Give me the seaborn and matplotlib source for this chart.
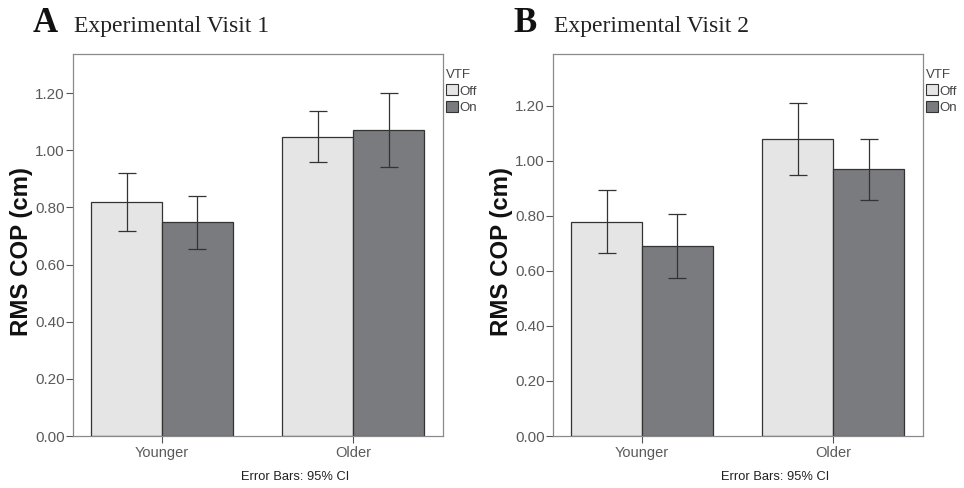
import numpy as np
import pandas as pd
import matplotlib
matplotlib.use("Agg")
import matplotlib.pyplot as plt
import seaborn as sns
from matplotlib.ticker import FormatStrFormatter
from matplotlib.patches import Patch

# ---- data ----
groups = ["Younger", "Older"]
vtf_levels = ["Off", "On"]

v1_off_mean = [0.818, 1.048]
v1_on_mean = [0.748, 1.070]
v1_off_lo = [0.719, 0.960]
v1_off_hi = [0.920, 1.138]
v1_on_lo = [0.656, 0.941]
v1_on_hi = [0.841, 1.202]

v2_off_mean = [0.779, 1.081]
v2_on_mean = [0.692, 0.971]
v2_off_lo = [0.665, 0.950]
v2_off_hi = [0.893, 1.212]
v2_on_lo = [0.575, 0.859]
v2_on_hi = [0.808, 1.081]

yticks = [0.0, 0.2, 0.4, 0.6, 0.8, 1.0, 1.2]

sns.set_style("white")
plt.rcParams["font.family"] = ["Liberation Sans", "DejaVu Sans"]

colors = {"Off": "#e5e5e6", "On": "#7a7b7f"}
tick_col = "#5a5a5a"
spine_col = "#8a8a8a"

fig = plt.figure(figsize=(9.64, 4.88), dpi=100)
axA = fig.add_axes([73 / 964, 52 / 488, 370 / 964, 382 / 488])
axB = fig.add_axes([553 / 964, 52 / 488, 370 / 964, 382 / 488])


def panel(ax, off_mean, on_mean, off_lo, off_hi, on_lo, on_hi, ytop):
    df = pd.DataFrame({
        "Group": groups * 2,
        "VTF": ["Off"] * 2 + ["On"] * 2,
        "RMS": off_mean + on_mean,
    })
    sns.barplot(data=df, x="Group", y="RMS", hue="VTF", order=groups,
                hue_order=vtf_levels, palette=colors, errorbar=None,
                width=0.74, gap=0, edgecolor="#333333", linewidth=0.9,
                saturation=1, legend=False, ax=ax)
    series = [(off_mean, off_lo, off_hi), (on_mean, on_lo, on_hi)]
    for cont, (m, lo, hi) in zip(ax.containers, series):
        xs = [b.get_x() + b.get_width() / 2 for b in cont]
        m = np.array(m); lo = np.array(lo); hi = np.array(hi)
        ax.errorbar(xs, m, yerr=[m - lo, hi - m], fmt="none",
                    ecolor="#333333", elinewidth=0.9, capsize=6.5,
                    capthick=0.9, zorder=5)
    ax.set_xlim(-0.466, 1.47)
    ax.set_ylim(0, ytop)
    ax.set_yticks(yticks)
    ax.yaxis.set_major_formatter(FormatStrFormatter("%.2f"))
    ax.set_xlabel("")
    ax.set_ylabel("RMS COP (cm)", fontsize=17.3, fontweight="bold",
                  color="#111111")
    ax.yaxis.set_label_coords(-0.108, 0.482)
    for s in ax.spines.values():
        s.set_visible(True)
        s.set_color(spine_col)
        s.set_linewidth(0.9)
    ax.tick_params(axis="both", direction="out", length=5, width=0.8,
                   color="#555555", labelcolor=tick_col, labelsize=11,
                   pad=1)
    ax.tick_params(axis="x", labelsize=10.5, pad=2)
    ax.tick_params(left=True, bottom=True)
    handles = [Patch(facecolor=colors[l], edgecolor="#333333", linewidth=0.8,
                     label=l) for l in vtf_levels]
    leg = ax.legend(handles=handles, title="VTF", loc="upper left",
                    bbox_to_anchor=(1.008, 0.962), frameon=False,
                    fontsize=9.5, title_fontsize=9.5, handlelength=0.95,
                    handleheight=0.9, handletextpad=0.1,
                    labelspacing=0.3, borderaxespad=0, borderpad=0,
                    alignment="left")
    for t in leg.get_texts():
        t.set_color("#444444")
    leg.get_title().set_color("#444444")


panel(axA, v1_off_mean, v1_on_mean, v1_off_lo, v1_off_hi, v1_on_lo,
      v1_on_hi, 1.337)
panel(axB, v2_off_mean, v2_on_mean, v2_off_lo, v2_off_hi, v2_on_lo,
      v2_on_hi, 1.389)

ty = (488 - 32) / 488
fig.text(33 / 964, ty, "A", fontsize=25, fontweight="bold",
         family=["Liberation Serif"], va="baseline", color="#111111")
fig.text(74 / 964, ty, "Experimental Visit 1", fontsize=17,
         family=["Liberation Serif"], va="baseline", color="#222222")
fig.text(513 / 964, ty, "B", fontsize=25, fontweight="bold",
         family=["Liberation Serif"], va="baseline", color="#111111")
fig.text(554 / 964, ty, "Experimental Visit 2", fontsize=17,
         family=["Liberation Serif"], va="baseline", color="#222222")

fy = (488 - 477) / 488
fig.text(295 / 964, fy, "Error Bars: 95% CI", fontsize=9.3, ha="center",
         va="center", color="#222222")
fig.text(775 / 964, fy, "Error Bars: 95% CI", fontsize=9.3, ha="center",
         va="center", color="#222222")

fig.savefig("out.png", dpi=100)
